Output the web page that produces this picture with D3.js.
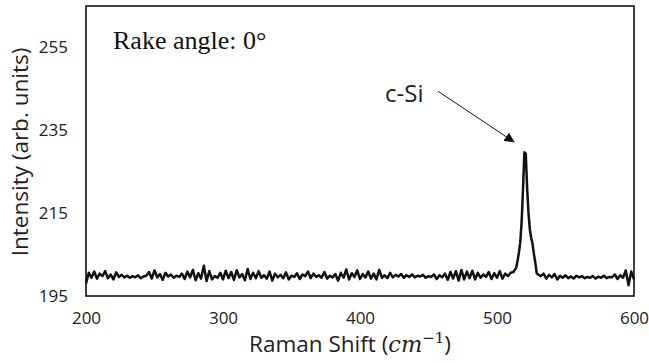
<!DOCTYPE html>
<html>
<head>
<meta charset="utf-8">
<script src="https://cdn.jsdelivr.net/npm/d3@7"></script>
<style>
  body { margin: 0; background: #fff; }
  svg { display: block; }
</style>
</head>
<body>
<div id="chart"></div>
<script>
// Raman spectrum, rake angle 0 deg
var lowShift = d3.range(200, 511, 2);
var lowIntensity = [
    198.0, 200.6, 199.4, 200.9, 199.2, 200.4, 199.8, 201.0, 199.3, 200.2,
    199.0, 200.7, 199.6, 200.1, 199.5, 199.9, 199.4, 199.8, 199.5, 200.0,
    199.3, 199.7, 199.9, 200.8, 199.2, 201.2, 199.5, 200.3, 198.9, 200.6,
    199.7, 200.2, 199.4, 199.9, 199.6, 200.4, 199.1, 200.9, 199.5, 201.3,
    198.8, 200.5, 199.2, 202.3, 198.6, 201.0, 199.0, 199.8, 199.4, 200.6,
    199.0, 201.1, 199.3, 200.8, 198.9, 201.2, 199.5, 200.3, 198.8, 201.5,
    199.1, 200.6, 199.3, 201.0, 199.4, 200.0, 199.2, 200.9, 198.7, 200.4,
    199.5, 200.1, 199.3, 200.7, 199.0, 199.9, 199.6, 200.5, 199.1, 200.2,
    199.8, 200.9, 199.3, 200.4, 199.6, 200.0, 199.4, 200.8, 199.2, 199.9,
    199.5, 200.3, 198.7, 200.6, 199.4, 201.4, 199.0, 200.5, 199.6, 201.2,
    199.1, 200.3, 199.5, 200.9, 199.2, 200.4, 199.0, 201.3, 199.4, 200.0,
    199.3, 200.6, 199.5, 200.1, 199.7, 200.3, 199.4, 200.0, 199.6, 200.2,
    199.5, 199.9, 199.7, 200.1, 199.4, 199.8, 199.6, 200.2, 199.1, 200.0,
    199.5, 200.4, 198.9, 200.8, 199.2, 201.0, 198.7, 201.3, 199.0, 200.9,
    199.3, 201.1, 199.0, 200.6, 199.4, 200.2, 199.6, 200.8, 199.1, 200.5,
    199.4, 201.0, 199.2, 200.4, 199.8, 200.6
];

var peakShift = [512, 514, 515, 516, 517, 518, 519, 520, 521, 522, 523, 524, 525, 526, 527, 528, 529, 530];
var peakIntensity = [200.8, 201.8, 203.5, 205.5, 208, 213, 221, 229.7, 229.3, 221, 215, 211, 209, 207.5, 205, 203, 200.5, 200.2];

var highShift = d3.range(532, 601, 2);
var highIntensity = [
    199.8, 200.4, 199.2, 200.1, 199.5, 200.3, 199.0, 199.9, 199.4, 200.0,
    199.3, 199.7, 199.2, 199.9, 199.5, 199.8, 199.3, 199.6, 199.4, 199.8,
    199.2, 199.7, 199.4, 199.9, 199.3, 199.6, 199.5, 200.2, 199.1, 200.0,
    199.4, 201.2, 197.6, 200.9, 199.0
];

var xTicks = [200, 300, 400, 500, 600];
var yTicks = [195, 215, 235, 255];

var spectrum = [];
lowShift.forEach(function(s, i) { spectrum.push({ x: s, y: lowIntensity[i] }); });
peakShift.forEach(function(s, i) { spectrum.push({ x: s, y: peakIntensity[i] }); });
highShift.forEach(function(s, i) { spectrum.push({ x: s, y: highIntensity[i] }); });

var margin = { top: 6, left: 86, bottom: 67, right: 15 },
    width = 649,
    height = 363;

var x = d3.scaleLinear()
    .domain([200, 600])
    .range([margin.left, width - margin.right]);

var y = d3.scaleLinear()
    .domain([195, 265])
    .range([height - margin.bottom, margin.top]);

var svg = d3.select("#chart")
    .append("svg")
    .attr("width", width)
    .attr("height", height);

var sans = "'Open Sans', 'Noto Sans', sans-serif";

// y tick labels
svg.append("g")
    .attr("transform", "translate(" + (margin.left - 18) + ",0)")
    .call(d3.axisLeft(y).tickValues(yTicks).tickSize(0).tickPadding(0))
    .call(function(g) { g.select(".domain").remove(); })
    .selectAll("text")
    .style("font-family", sans)
    .style("font-size", "17px")
    .attr("fill", "#222");

// x tick labels
svg.append("g")
    .attr("transform", "translate(0," + (height - margin.bottom + 16) + ")")
    .call(d3.axisBottom(x).tickValues(xTicks).tickSize(0).tickPadding(0))
    .call(function(g) { g.select(".domain").remove(); })
    .selectAll("text")
    .style("font-family", sans)
    .style("font-size", "17px")
    .attr("fill", "#222");

// spectrum
var line = d3.line()
    .x(function(d) { return x(d.x); })
    .y(function(d) { return y(d.y); });

svg.append("path")
    .datum(spectrum)
    .attr("d", line)
    .attr("fill", "none")
    .attr("stroke", "#111")
    .attr("stroke-width", 2.5)
    .attr("stroke-linejoin", "round");

// frame
svg.append("rect")
    .attr("x", x(200))
    .attr("y", y(265))
    .attr("width", x(600) - x(200))
    .attr("height", y(195) - y(265))
    .attr("fill", "none")
    .attr("stroke", "#111")
    .attr("stroke-width", 1.6);

// axis titles
svg.append("text")
    .attr("transform", "translate(28," + 152 + ") rotate(-90)")
    .attr("text-anchor", "middle")
    .style("font-family", sans)
    .style("font-size", "22.5px")
    .attr("fill", "#222")
    .text("Intensity (arb. units)");

var xt = svg.append("text")
    .attr("x", 350)
    .attr("y", 352)
    .attr("text-anchor", "middle")
    .style("font-family", sans)
    .style("font-size", "22.5px")
    .attr("fill", "#222");
xt.append("tspan").text("Raman Shift (");
xt.append("tspan")
    .style("font-family", "'DejaVu Serif', 'Liberation Serif', serif")
    .style("font-style", "italic")
    .text("cm");
xt.append("tspan")
    .attr("dy", -9)
    .style("font-family", "'DejaVu Serif', 'Liberation Serif', serif")
    .style("font-size", "15px")
    .text("\u22121");
xt.append("tspan")
    .attr("dy", 9)
    .text(")");

// annotations
svg.append("text")
    .attr("x", 113)
    .attr("y", 49)
    .style("font-family", "'Liberation Serif', 'Times New Roman', serif")
    .style("font-size", "26px")
    .attr("fill", "#111")
    .text("Rake angle: 0\u00b0");

svg.append("text")
    .attr("x", 385)
    .attr("y", 102)
    .style("font-family", sans)
    .style("font-size", "24px")
    .attr("fill", "#222")
    .text("c-Si");

svg.append("defs").append("marker")
    .attr("id", "head")
    .attr("viewBox", "0 0 10 10")
    .attr("refX", 10)
    .attr("refY", 5)
    .attr("markerWidth", 10)
    .attr("markerHeight", 10)
    .attr("markerUnits", "userSpaceOnUse")
    .attr("orient", "auto")
    .append("path")
    .attr("d", "M0,0L10,5L0,10Z")
    .attr("fill", "#111");

svg.append("line")
    .attr("x1", x(457))
    .attr("y1", y(244.4))
    .attr("x2", x(512.8))
    .attr("y2", y(232.1))
    .attr("stroke", "#111")
    .attr("stroke-width", 1)
    .attr("marker-end", "url(#head)");
</script>
</body>
</html>
